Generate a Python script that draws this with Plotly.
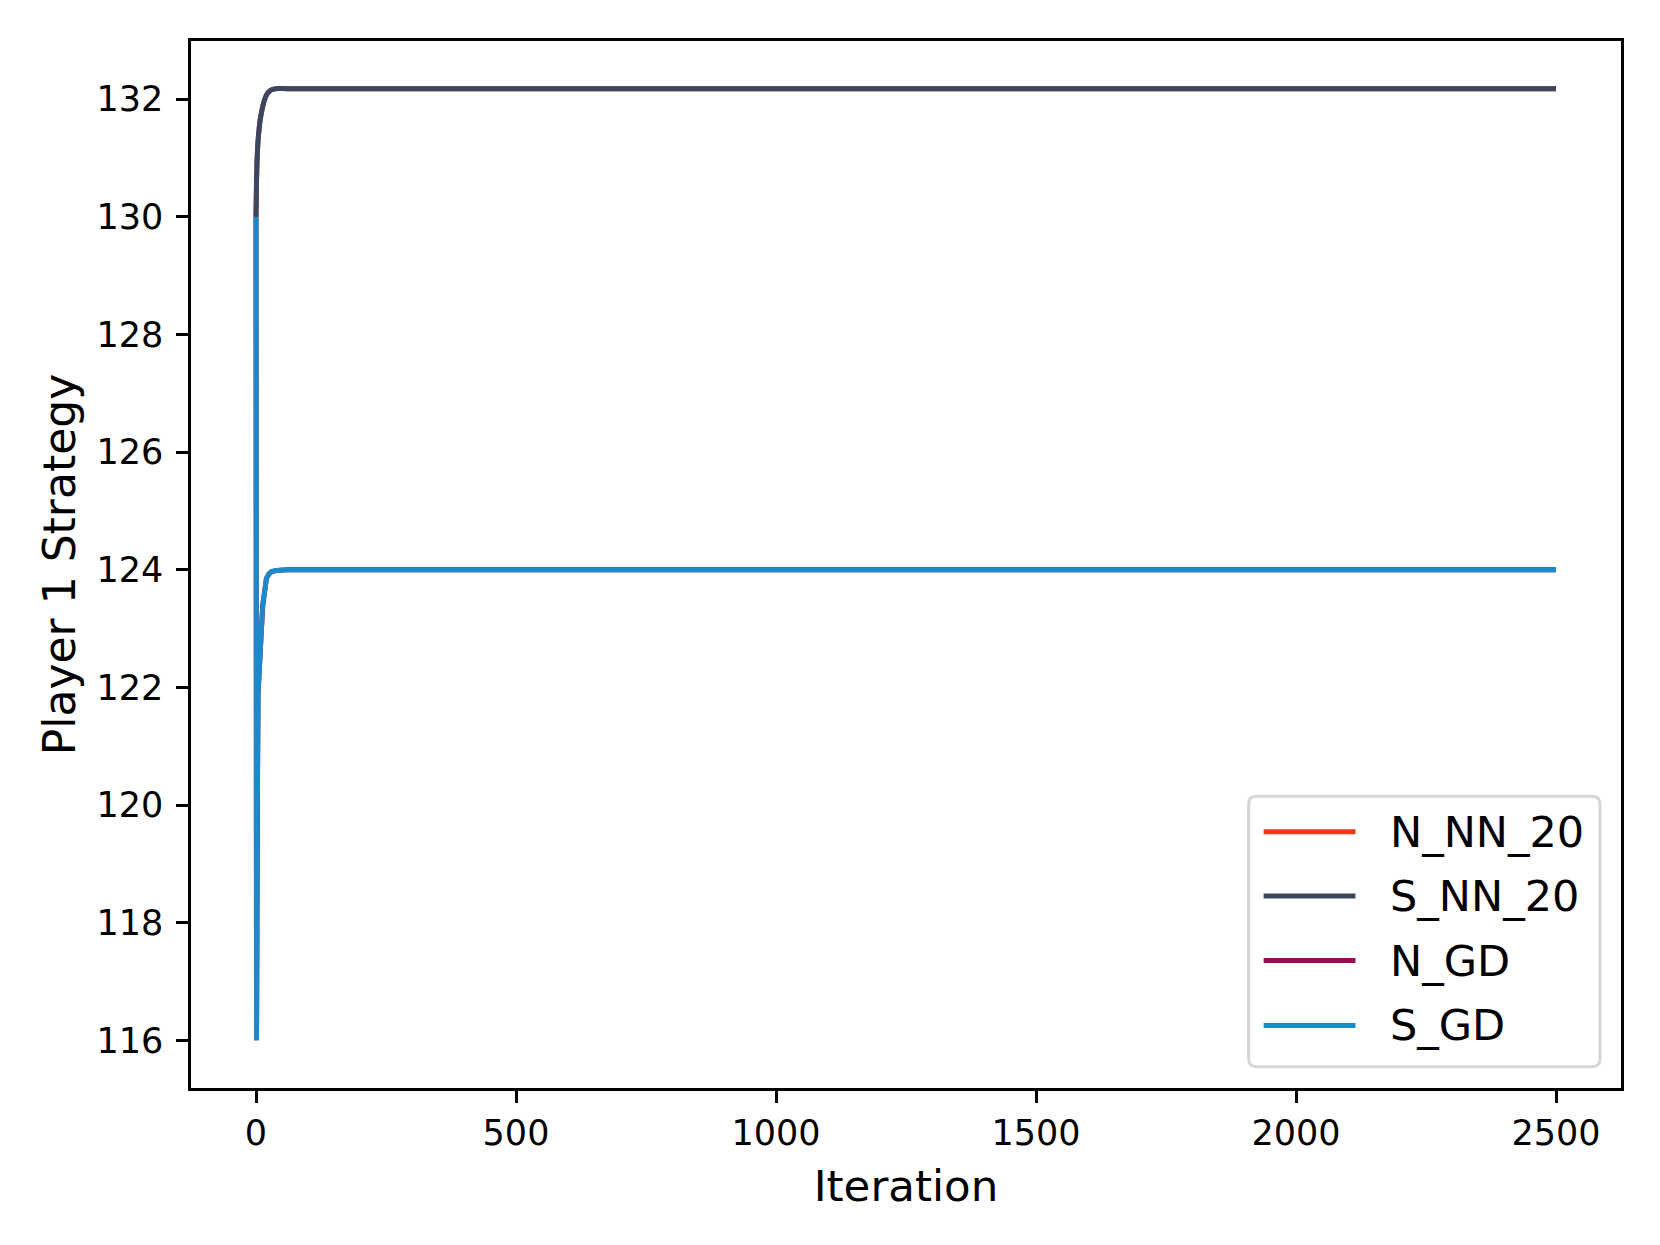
import plotly.graph_objects as go

iterations_nn = [0, 1, 2, 3, 4, 6, 8, 10, 13, 16, 20, 25, 30, 40, 60, 2500]
iterations_gd = [0, 1, 2, 3, 4, 5, 6, 8, 10, 13, 16, 20, 25, 30, 40, 60, 2500]

# Player 1 strategy values per method
n_nn_20 = [130.0, 130.6, 130.95, 131.15, 131.3, 131.5, 131.65, 131.75, 131.88,
           131.98, 132.07, 132.13, 132.16, 132.18, 132.18, 132.18]
s_nn_20 = [130.0, 130.6, 130.95, 131.15, 131.3, 131.5, 131.65, 131.75, 131.88,
           131.98, 132.07, 132.13, 132.16, 132.18, 132.18, 132.18]
n_gd = [130.0, 116.0, 118.3, 120.6, 121.9, 122.15, 122.35, 122.65, 122.92,
        123.4, 123.65, 123.85, 123.93, 123.97, 123.99, 124.0, 124.0]
s_gd = [130.0, 116.0, 118.3, 120.6, 121.9, 122.15, 122.35, 122.65, 122.92,
        123.4, 123.65, 123.85, 123.93, 123.97, 123.99, 124.0, 124.0]

series_names = ["N_NN_20", "S_NN_20", "N_GD", "S_GD"]
series_colors = ["#E8381A", "#3B4660", "#9A0A50", "#1B89CC"]

y_ticks = [116, 118, 120, 122, 124, 126, 128, 130, 132]
x_ticks = [0, 500, 1000, 1500, 2000, 2500]


def rounded_box(x0, y0, x1, y1, rx, ry):
    """SVG path of a rounded rectangle (paper coordinates)."""
    return (
        f"M{x0 + rx},{y0} L{x1 - rx},{y0} Q{x1},{y0} {x1},{y0 + ry} "
        f"L{x1},{y1 - ry} Q{x1},{y1} {x1 - rx},{y1} "
        f"L{x0 + rx},{y1} Q{x0},{y1} {x0},{y1 - ry} "
        f"L{x0},{y0 + ry} Q{x0},{y0} {x0 + rx},{y0} Z"
    )


def create_strategy_plot(width=1652, height=1237):
    """
    Line plot of the Player 1 strategy over the iterations, one line per method,
    with a matplotlib-like legend box in the lower right corner.
    """
    font_family = "DejaVu Sans"
    series = [
        (iterations_nn, n_nn_20, "spline"),
        (iterations_nn, s_nn_20, "spline"),
        (iterations_gd, n_gd, "linear"),
        (iterations_gd, s_gd, "linear"),
    ]

    fig = go.Figure()
    for (x_vals, y_vals, shape), name, color in zip(series, series_names, series_colors):
        fig.add_trace(go.Scatter(
            x=x_vals,
            y=y_vals,
            name=name,
            mode="lines",
            line=dict(color=color, width=5, shape=shape, smoothing=0.6),
            showlegend=False,
        ))

    # Legend drawn by hand (long line samples, rounded frame)
    box_x0, box_x1 = 0.7396, 0.9853
    box_y0, box_y1 = 0.0204, 0.2787
    fig.add_shape(
        type="path",
        xref="paper", yref="paper",
        path=rounded_box(box_x0, box_y0, box_x1, box_y1, 0.0056, 0.0076),
        line=dict(color="#D6D6D6", width=3),
        fillcolor="rgba(255,255,255,0.8)",
        layer="above",
    )
    row_y = [0.2447, 0.1834, 0.1217, 0.0598]
    for name, color, y in zip(series_names, series_colors, row_y):
        fig.add_shape(
            type="line",
            xref="paper", yref="paper",
            x0=0.7501, x1=0.8143, y0=y, y1=y,
            line=dict(color=color, width=5),
            layer="above",
        )
        fig.add_annotation(
            xref="paper", yref="paper",
            x=0.8374, y=y,
            xanchor="left", yanchor="middle",
            text=name,
            showarrow=False,
            font=dict(family=font_family, size=43, color="black"),
        )

    axis_common = dict(
        showline=True,
        linecolor="black",
        linewidth=2.5,
        mirror=True,
        ticks="outside",
        ticklen=12,
        tickwidth=2.5,
        tickcolor="black",
        showgrid=False,
        zeroline=False,
        tickfont=dict(family=font_family, size=35, color="black"),
    )

    fig.update_layout(
        width=width,
        height=height,
        template="plotly_white",
        plot_bgcolor="white",
        paper_bgcolor="white",
        showlegend=False,
        margin=dict(l=182.5, r=39, t=33, b=156.6),
        xaxis=dict(
            **axis_common,
            range=[-125, 2625],
            tickvals=x_ticks,
            ticklabelstandoff=0,
            title=dict(text="Iteration", standoff=19,
                       font=dict(family=font_family, size=43.5, color="black")),
        ),
        yaxis=dict(
            **axis_common,
            range=[115.19, 132.99],
            tickvals=y_ticks,
            ticklabelstandoff=6,
            title=dict(text="Player 1 Strategy", standoff=8,
                       font=dict(family=font_family, size=44, color="black")),
        ),
    )
    return fig


fig = create_strategy_plot()
fig.write_html("out.html")
